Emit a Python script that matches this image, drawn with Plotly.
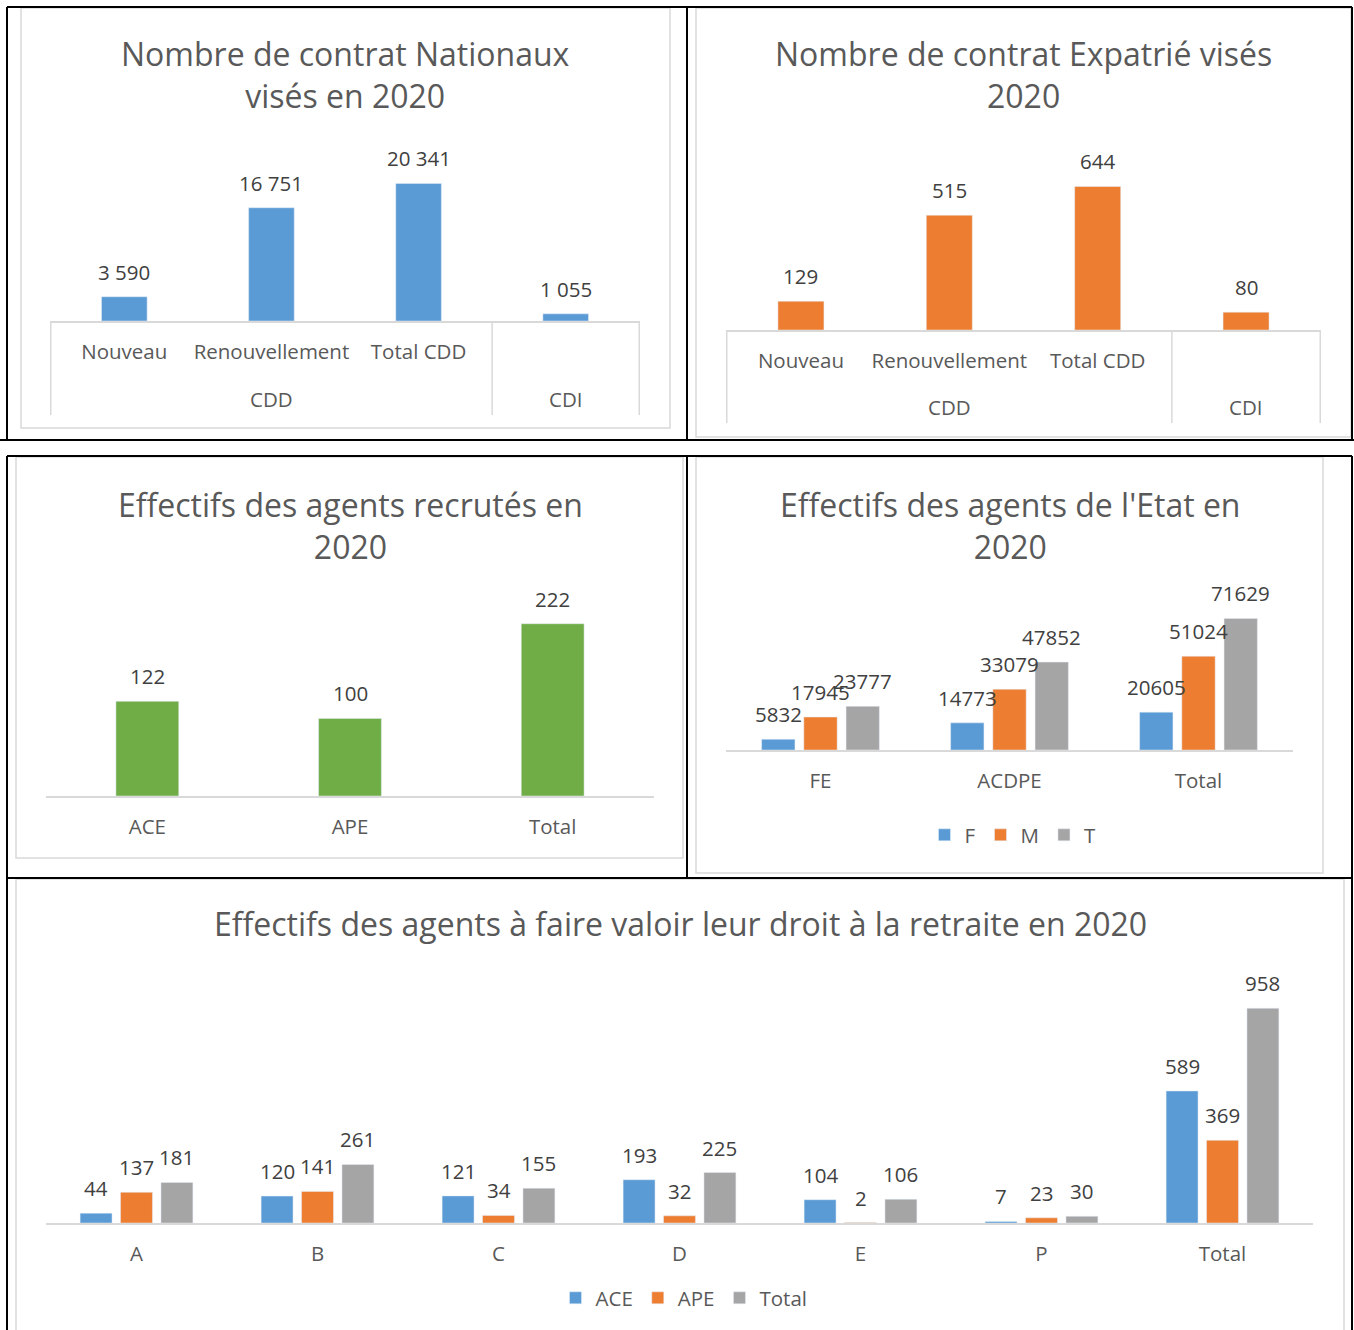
import plotly.graph_objects as go

W, H = 1354, 1330
FONT = "'Open Sans', sans-serif"

# ---------------- DATA ----------------
nat_cats = ["Nouveau", "Renouvellement", "Total CDD", "CDI"]
nat_ticks = ["Nouveau", "Renouvellement", "Total CDD", ""]
nat_groups = ["CDD", "CDI"]
nat_vals = [3590, 16751, 20341, 1055]

exp_vals = [129, 515, 644, 80]

rec_cats = ["ACE", "APE", "Total"]
rec_vals = [122, 100, 222]

etat_cats = ["FE", "ACDPE", "Total"]
etat_F = [5832, 14773, 20605]
etat_M = [17945, 33079, 51024]
etat_T = [23777, 47852, 71629]

ret_cats = ["A", "B", "C", "D", "E", "P", "Total"]
ret_ACE = [44, 120, 121, 193, 104, 7, 589]
ret_APE = [137, 141, 34, 32, 2, 23, 369]
ret_Total = [181, 261, 155, 225, 106, 30, 958]

titles = [
    "Nombre de contrat Nationaux<br>visés en 2020",
    "Nombre de contrat Expatrié visés<br>2020",
    "Effectifs des agents recrutés en<br>2020",
    "Effectifs des agents de l'Etat en<br>2020",
    "Effectifs des agents à faire valoir leur droit à la retraite en 2020",
]

# ---------------- STYLE ----------------
BLUE, ORANGE, GRAY, GREEN = "#5B9BD5", "#ED7D31", "#A5A5A5", "#70AD47"
TITLE_C, LABEL_C, AXIS_C, LINE_C = "#595959", "#404040", "#595959", "#D9D9D9"
TITLE_SIZE, LABEL_SIZE, TICK_SIZE = 32, 20.5, 20.5


def fx(p):
    return p / W


def fy(p):
    return 1 - p / H


fig = go.Figure()

# subplot geometry in pixels: (x0, x1, top, baseline, ymax)
geo = {
    "": (50, 640, 152, 321, 25000),
    "2": (726, 1321, 174, 330, 700),
    "3": (46, 654, 602, 796, 250),
    "4": (726, 1293, 603, 750, 80000),
    "5": (46, 1313, 954, 1223, 1200),
}

for k, (x0, x1, top, base, ymax) in geo.items():
    fig.layout["xaxis" + k] = dict(
        domain=[fx(x0), fx(x1)], anchor="y" + k, type="category",
        showline=True, linecolor=LINE_C, linewidth=1.5, showgrid=False,
        zeroline=False, ticks="", ticklabelstandoff=12,
        tickfont=dict(family=FONT, size=TICK_SIZE, color=AXIS_C),
        fixedrange=True,
    )
    fig.layout["yaxis" + k] = dict(
        domain=[fy(base), fy(top)], anchor="x" + k, range=[0, ymax],
        visible=False, fixedrange=True,
    )

fig.layout.xaxis.update(tickvals=nat_cats, ticktext=nat_ticks)
fig.layout.xaxis2.update(tickvals=nat_cats, ticktext=nat_ticks)

# single-series charts
fig.add_trace(go.Bar(x=nat_cats, y=nat_vals, marker_color=BLUE, width=0.31,
                     xaxis="x", yaxis="y", showlegend=False))
fig.add_trace(go.Bar(x=nat_cats, y=exp_vals, marker_color=ORANGE, width=0.31,
                     xaxis="x2", yaxis="y2", showlegend=False))
fig.add_trace(go.Bar(x=rec_cats, y=rec_vals, marker_color=GREEN, width=0.31,
                     xaxis="x3", yaxis="y3", showlegend=False))

# grouped charts
for name, vals, col in [("F", etat_F, BLUE), ("M", etat_M, ORANGE), ("T", etat_T, GRAY)]:
    fig.add_trace(go.Bar(x=etat_cats, y=vals, name=name, marker_color=col,
                         xaxis="x4", yaxis="y4", legend="legend"))
for name, vals, col in [("ACE", ret_ACE, BLUE), ("APE", ret_APE, ORANGE), ("Total", ret_Total, GRAY)]:
    fig.add_trace(go.Bar(x=ret_cats, y=vals, name=name, marker_color=col,
                         xaxis="x5", yaxis="y5", legend="legend2"))

ann = []


def labels(k, cats, vals, texts, xshift=0):
    for c, v, t in zip(cats, vals, texts):
        ann.append(dict(x=c, y=v, xref="x" + k, yref="y" + k, text=t,
                        showarrow=False, yshift=25, xshift=xshift, yanchor="middle",
                        font=dict(family=FONT, size=LABEL_SIZE, color=LABEL_C)))


labels("", nat_cats, nat_vals, [f"{v:,}".replace(",", " ") for v in nat_vals])
labels("2", nat_cats, exp_vals, [f"{v:,}".replace(",", " ") for v in exp_vals])
labels("3", rec_cats, rec_vals, [str(v) for v in rec_vals])
for sh, vals in zip([-42.2, 0, 42.2], [etat_F, etat_M, etat_T]):
    labels("4", etat_cats, vals, [str(v) for v in vals], sh)
for sh, vals in zip([-40.4, 0, 40.4], [ret_ACE, ret_APE, ret_Total]):
    labels("5", ret_cats, vals, [str(v) for v in vals], sh)

# group labels for multi-level axes
for k, ypx in [("", 399), ("2", 407)]:
    for xi, g in zip([1, 3], nat_groups):
        ann.append(dict(x=xi, y=fy(ypx), xref="x" + k, yref="paper", text=g,
                        showarrow=False, yanchor="middle",
                        font=dict(family=FONT, size=TICK_SIZE, color=AXIS_C)))

# titles
for t, (cx, cy) in zip(titles, [(345, 75), (1023, 75), (350, 525), (1010, 525), (680, 923)]):
    ann.append(dict(x=fx(cx), y=fy(cy), xref="paper", yref="paper", text=t,
                    showarrow=False, xanchor="center", yanchor="middle",
                    font=dict(family=FONT, size=TITLE_SIZE, color=TITLE_C)))

shapes = []


def line(x0, y0, x1, y1, color, width, xref="paper"):
    shapes.append(dict(type="line", xref=xref, yref="paper",
                       x0=x0 if xref != "paper" else fx(x0), x1=x1 if xref != "paper" else fx(x1),
                       y0=fy(y0), y1=fy(y1), line=dict(color=color, width=width)))


def rect(x0, y0, x1, y1, color, width):
    shapes.append(dict(type="rect", xref="paper", yref="paper", x0=fx(x0), x1=fx(x1),
                       y0=fy(y0), y1=fy(y1), line=dict(color=color, width=width),
                       layer="below"))


# chart area frames (light gray)
rect(21, 8, 670, 428, LINE_C, 1.5)
rect(696, 8, 1351, 437, LINE_C, 1.5)
rect(16, 457, 683, 858, LINE_C, 1.5)
rect(696, 457, 1323, 873, LINE_C, 1.5)
rect(16, 879, 1344, 1340, LINE_C, 1.5)

# multi-level category dividers
for k, base, bot in [("", 321, 415), ("2", 330, 423)]:
    for xv in [-0.5, 2.5, 3.5]:
        line(xv, base, xv, bot, LINE_C, 1.5, xref="x" + k)

# table borders (black)
K = "#000000"
line(7, 7, 1352, 7, K, 2)
line(7, 7, 7, 440, K, 2)
line(1352, 7, 1352, 440, K, 2)
line(687, 7, 687, 440, K, 2)
line(0, 440, 1354, 440, K, 2)
line(7, 456, 1352, 456, K, 2)
line(7, 456, 7, 1330, K, 2)
line(1352, 456, 1352, 1330, K, 2)
line(687, 456, 687, 878, K, 2)
line(7, 878, 1352, 878, K, 2)

leg_font = dict(family=FONT, size=TICK_SIZE, color=AXIS_C)
fig.update_layout(
    width=W, height=H, autosize=False,
    margin=dict(l=0, r=0, t=0, b=0),
    paper_bgcolor="white", plot_bgcolor="rgba(0,0,0,0)",
    barmode="group", bargap=0.33, bargroupgap=0.21,
    annotations=ann, shapes=shapes,
    legend=dict(orientation="h", x=fx(1013), y=fy(835), xanchor="center", yanchor="middle",
                font=leg_font, bgcolor="rgba(0,0,0,0)", itemwidth=30),
    legend2=dict(orientation="h", x=fx(684), y=fy(1298), xanchor="center", yanchor="middle",
                 font=leg_font, bgcolor="rgba(0,0,0,0)", itemwidth=30),
    hovermode=False,
)

fig.write_html("out.html", config={"displayModeBar": False},
               post_script="document.body.style.margin='0';")
